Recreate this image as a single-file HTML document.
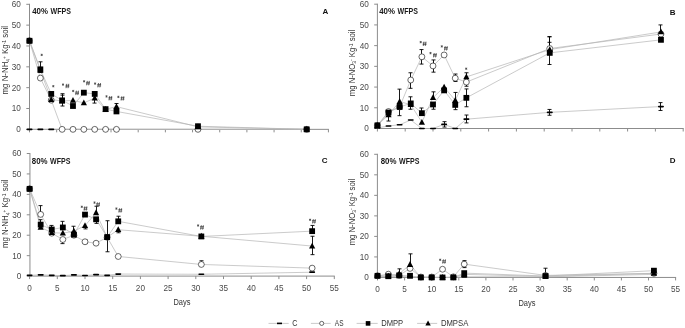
<!DOCTYPE html>
<html><head><meta charset="utf-8"><style>
html,body{margin:0;padding:0;background:#fff;}
body{width:685px;height:328px;overflow:hidden;}
svg{display:block;will-change:transform;}
text{font-family:"Liberation Sans", sans-serif;}
.tk{font-size:8.2px;fill:#4a4a4a;}
.ti{font-size:8.4px;fill:#333;}
.sub{font-size:5.2px;}
.wf{font-size:8.6px;font-weight:bold;fill:#1a1a1a;}
.lt{font-size:8px;font-weight:bold;fill:#111;}
.an{font-size:7px;fill:#333;font-style:italic;}
.st{font-size:6.5px;font-style:normal;}
.lg{font-size:8.4px;fill:#333;}
</style></head><body>
<svg width="685" height="328" viewBox="0 0 685 328">
<rect width="685" height="328" fill="#fff"/>
<g stroke="#8c8c8c" stroke-width="1" fill="none">
<path d="M29.5 3.8V129.35"/>
<path d="M29.5 129.35H328.92"/>
<path d="M26.3 129.35H29.5"/>
<path d="M26.3 108.51H29.5"/>
<path d="M26.3 87.67H29.5"/>
<path d="M26.3 66.83H29.5"/>
<path d="M26.3 45.98H29.5"/>
<path d="M26.3 25.14H29.5"/>
<path d="M26.3 4.3H29.5"/>
<path d="M29.5 129.35V132.35"/>
<path d="M56.67 129.35V132.35"/>
<path d="M83.85 129.35V132.35"/>
<path d="M111.02 129.35V132.35"/>
<path d="M138.2 129.35V132.35"/>
<path d="M165.38 129.35V132.35"/>
<path d="M192.55 129.35V132.35"/>
<path d="M219.72 129.35V132.35"/>
<path d="M246.9 129.35V132.35"/>
<path d="M274.07 129.35V132.35"/>
<path d="M301.25 129.35V132.35"/>
<path d="M328.42 129.35V132.35"/>
</g>
<text x="20.9" y="132.25" text-anchor="end" class="tk">0</text>
<text x="20.9" y="111.41" text-anchor="end" class="tk">10</text>
<text x="20.9" y="90.57" text-anchor="end" class="tk">20</text>
<text x="20.9" y="69.73" text-anchor="end" class="tk">30</text>
<text x="20.9" y="48.88" text-anchor="end" class="tk">40</text>
<text x="20.9" y="28.04" text-anchor="end" class="tk">50</text>
<text x="20.9" y="7.2" text-anchor="end" class="tk">60</text>
<g stroke="#b4b4b4" stroke-width="0.7" fill="none">
<polyline points="29.5,129.35 40.37,129.35 51.24,129.35 62.11,129.35 72.98,129.35 83.85,129.35 94.72,129.35 105.59,129.35 116.46,129.35 197.98,129.35 306.69,129.35"/>
<polyline points="29.5,40.77 40.37,78.08 51.24,100.17 62.11,129.35 72.98,129.35 83.85,129.35 94.72,129.35 105.59,129.35 116.46,129.35 197.98,129.35 306.69,129.35"/>
<polyline points="29.5,40.77 40.37,69.33 51.24,93.92 62.11,100.38 72.98,106.01 83.85,92.67 94.72,93.92 105.59,109.13 116.46,111.43 197.98,126.22 306.69,129.35"/>
<polyline points="29.5,40.77 40.37,70.37 51.24,99.55 62.11,101.01 72.98,100.38 83.85,102.88 94.72,98.09 105.59,109.34 116.46,106.63 197.98,126.85 306.69,129.35"/>
</g>
<g stroke="#000" stroke-width="0.9" fill="none">
<path d="M40.5 69.33V61.82M38.5 61.82H42.5"/>
<path d="M40.5 69.33V72.45M38.5 72.45H42.5"/>
<path d="M62.5 100.38V93.71M60.5 93.71H64.5"/>
<path d="M62.5 100.38V106.01M60.5 106.01H64.5"/>
<path d="M62.5 101.01V95.17M60.5 95.17H64.5"/>
<path d="M94.5 98.09V103.09M92.5 103.09H96.5"/>
<path d="M116.5 111.43V112.47M114.5 112.47H118.5"/>
<path d="M116.5 106.63V103.51M114.5 103.51H118.5"/>
<path d="M83.5 92.67V91.42M81.5 91.42H85.5"/>
<path d="M83.5 92.67V93.92M81.5 93.92H85.5"/>
<path d="M105.5 109.13V107.88M103.5 107.88H107.5"/>
<path d="M105.5 109.13V110.38M103.5 110.38H107.5"/>
</g>
<rect x="26.5" y="128.5" width="6" height="1.7" rx="0.8" fill="#000"/>
<rect x="37.37" y="128.5" width="6" height="1.7" rx="0.8" fill="#000"/>
<rect x="48.24" y="128.5" width="6" height="1.7" rx="0.8" fill="#000"/>
<rect x="59.11" y="128.5" width="6" height="1.7" rx="0.8" fill="#000"/>
<rect x="69.98" y="128.5" width="6" height="1.7" rx="0.8" fill="#000"/>
<rect x="80.85" y="128.5" width="6" height="1.7" rx="0.8" fill="#000"/>
<rect x="91.72" y="128.5" width="6" height="1.7" rx="0.8" fill="#000"/>
<rect x="102.59" y="128.5" width="6" height="1.7" rx="0.8" fill="#000"/>
<rect x="113.46" y="128.5" width="6" height="1.7" rx="0.8" fill="#000"/>
<rect x="194.98" y="128.5" width="6" height="1.7" rx="0.8" fill="#000"/>
<rect x="303.69" y="128.5" width="6" height="1.7" rx="0.8" fill="#000"/>
<circle cx="29.5" cy="40.77" r="2.95" fill="#fff" stroke="#1a1a1a" stroke-width="0.65"/>
<circle cx="40.37" cy="78.08" r="2.95" fill="#fff" stroke="#1a1a1a" stroke-width="0.65"/>
<circle cx="51.24" cy="100.17" r="2.95" fill="#fff" stroke="#1a1a1a" stroke-width="0.65"/>
<circle cx="62.11" cy="129.35" r="2.95" fill="#fff" stroke="#1a1a1a" stroke-width="0.65"/>
<circle cx="72.98" cy="129.35" r="2.95" fill="#fff" stroke="#1a1a1a" stroke-width="0.65"/>
<circle cx="83.85" cy="129.35" r="2.95" fill="#fff" stroke="#1a1a1a" stroke-width="0.65"/>
<circle cx="94.72" cy="129.35" r="2.95" fill="#fff" stroke="#1a1a1a" stroke-width="0.65"/>
<circle cx="105.59" cy="129.35" r="2.95" fill="#fff" stroke="#1a1a1a" stroke-width="0.65"/>
<circle cx="116.46" cy="129.35" r="2.95" fill="#fff" stroke="#1a1a1a" stroke-width="0.65"/>
<circle cx="197.98" cy="129.35" r="2.95" fill="#fff" stroke="#1a1a1a" stroke-width="0.65"/>
<circle cx="306.69" cy="129.35" r="2.95" fill="#fff" stroke="#1a1a1a" stroke-width="0.65"/>
<rect x="26.6" y="37.87" width="5.8" height="5.8" fill="#000"/>
<rect x="37.47" y="66.43" width="5.8" height="5.8" fill="#000"/>
<rect x="48.34" y="91.02" width="5.8" height="5.8" fill="#000"/>
<rect x="59.21" y="97.48" width="5.8" height="5.8" fill="#000"/>
<rect x="70.08" y="103.11" width="5.8" height="5.8" fill="#000"/>
<rect x="80.95" y="89.77" width="5.8" height="5.8" fill="#000"/>
<rect x="91.82" y="91.02" width="5.8" height="5.8" fill="#000"/>
<rect x="102.69" y="106.23" width="5.8" height="5.8" fill="#000"/>
<rect x="113.56" y="108.53" width="5.8" height="5.8" fill="#000"/>
<rect x="195.08" y="123.32" width="5.8" height="5.8" fill="#000"/>
<rect x="303.79" y="126.45" width="5.8" height="5.8" fill="#000"/>
<path d="M29.5 37.37L32.6 43.17L26.4 43.17Z" fill="#000"/>
<path d="M40.37 66.97L43.47 72.77L37.27 72.77Z" fill="#000"/>
<path d="M51.24 96.15L54.34 101.95L48.14 101.95Z" fill="#000"/>
<path d="M62.11 97.61L65.21 103.41L59.01 103.41Z" fill="#000"/>
<path d="M72.98 96.98L76.08 102.78L69.88 102.78Z" fill="#000"/>
<path d="M83.85 99.48L86.95 105.28L80.75 105.28Z" fill="#000"/>
<path d="M94.72 94.69L97.82 100.49L91.62 100.49Z" fill="#000"/>
<path d="M105.59 105.94L108.69 111.74L102.49 111.74Z" fill="#000"/>
<path d="M116.46 103.23L119.56 109.03L113.36 109.03Z" fill="#000"/>
<path d="M197.98 123.45L201.08 129.25L194.88 129.25Z" fill="#000"/>
<path d="M306.69 125.95L309.79 131.75L303.58 131.75Z" fill="#000"/>
<path d="M41.7 53.75L41.7 56.05M42.7 54.32L40.7 55.48M42.7 55.48L40.7 54.32" stroke="#444" stroke-width="0.75" fill="none"/>
<path d="M53.3 85.05L53.3 87.35M54.3 85.62L52.3 86.78M54.3 86.78L52.3 85.62" stroke="#444" stroke-width="0.75" fill="none"/>
<path d="M63 83.45L63 85.75M64 84.02L62 85.17M64 85.17L62 84.02" stroke="#444" stroke-width="0.75" fill="none"/>
<path d="M66.75 83.8L66.05 88.2M68.75 83.8L68.05 88.2M65.5 85.25H69.3M65.5 86.75H69.3" stroke="#333" stroke-width="0.7" fill="none"/>
<path d="M73.2 89.85L73.2 92.15M74.2 90.42L72.2 91.58M74.2 91.58L72.2 90.42" stroke="#444" stroke-width="0.75" fill="none"/>
<path d="M76.45 90.7L75.75 95.1M78.45 90.7L77.75 95.1M75.2 92.15H79M75.2 93.65H79" stroke="#333" stroke-width="0.7" fill="none"/>
<path d="M84.1 80.15L84.1 82.45M85.1 80.72L83.1 81.88M85.1 81.88L83.1 80.72" stroke="#444" stroke-width="0.75" fill="none"/>
<path d="M87.35 80.9L86.65 85.3M89.35 80.9L88.65 85.3M86.1 82.35H89.9M86.1 83.85H89.9" stroke="#333" stroke-width="0.7" fill="none"/>
<path d="M95.1 82.45L95.1 84.75M96.1 83.02L94.1 84.17M96.1 84.17L94.1 83.02" stroke="#444" stroke-width="0.75" fill="none"/>
<path d="M98.55 83L97.85 87.4M100.55 83L99.85 87.4M97.3 84.45H101.1M97.3 85.95H101.1" stroke="#333" stroke-width="0.7" fill="none"/>
<path d="M106.5 95.25L106.5 97.55M107.5 95.83L105.5 96.98M107.5 96.98L105.5 95.83" stroke="#444" stroke-width="0.75" fill="none"/>
<path d="M109.75 96L109.05 100.4M111.75 96L111.05 100.4M108.5 97.45H112.3M108.5 98.95H112.3" stroke="#333" stroke-width="0.7" fill="none"/>
<path d="M118.4 95.75L118.4 98.05M119.4 96.33L117.4 97.48M119.4 97.48L117.4 96.33" stroke="#444" stroke-width="0.75" fill="none"/>
<path d="M121.85 96.2L121.15 100.6M123.85 96.2L123.15 100.6M120.6 97.65H124.4M120.6 99.15H124.4" stroke="#333" stroke-width="0.7" fill="none"/>
<text transform="translate(8.4 60.2) rotate(-90)" text-anchor="middle" class="ti" textLength="68.5" lengthAdjust="spacingAndGlyphs">mg N-NH<tspan class="sub" dy="1.2">4</tspan><tspan class="sub" dy="-3.6">+</tspan><tspan dy="2.4"> Kg</tspan><tspan class="sub" dy="-2.6">-1</tspan><tspan dy="2.6"> soil</tspan></text>
<text x="32.2" y="14" class="wf" textLength="15.8" lengthAdjust="spacingAndGlyphs">40%</text>
<text x="50.5" y="14" class="wf" textLength="20.4" lengthAdjust="spacingAndGlyphs">WFPS</text>
<text x="325.5" y="13.5" class="lt" text-anchor="middle">A</text>
<g stroke="#8c8c8c" stroke-width="1" fill="none">
<path d="M377.4 3.7V128.5"/>
<path d="M377.4 128.5H683.7"/>
<path d="M374.2 128.5H377.4"/>
<path d="M374.2 107.78H377.4"/>
<path d="M374.2 87.07H377.4"/>
<path d="M374.2 66.35H377.4"/>
<path d="M374.2 45.63H377.4"/>
<path d="M374.2 24.92H377.4"/>
<path d="M374.2 4.2H377.4"/>
<path d="M377.4 128.5V131.5"/>
<path d="M405.2 128.5V131.5"/>
<path d="M433 128.5V131.5"/>
<path d="M460.8 128.5V131.5"/>
<path d="M488.6 128.5V131.5"/>
<path d="M516.4 128.5V131.5"/>
<path d="M544.2 128.5V131.5"/>
<path d="M572 128.5V131.5"/>
<path d="M599.8 128.5V131.5"/>
<path d="M627.6 128.5V131.5"/>
<path d="M655.4 128.5V131.5"/>
<path d="M683.2 128.5V131.5"/>
</g>
<text x="368.8" y="131.4" text-anchor="end" class="tk">0</text>
<text x="368.8" y="110.68" text-anchor="end" class="tk">10</text>
<text x="368.8" y="89.97" text-anchor="end" class="tk">20</text>
<text x="368.8" y="69.25" text-anchor="end" class="tk">30</text>
<text x="368.8" y="48.53" text-anchor="end" class="tk">40</text>
<text x="368.8" y="27.82" text-anchor="end" class="tk">50</text>
<text x="368.8" y="7.1" text-anchor="end" class="tk">60</text>
<g stroke="#b4b4b4" stroke-width="0.7" fill="none">
<polyline points="377.4,127.88 388.52,126.01 399.64,124.77 410.76,120.01 421.88,128.5 433,128.5 444.12,124.36 455.24,128.5 466.36,119.18 549.76,112.34 660.96,106.54"/>
<polyline points="377.4,125.39 388.52,111.51 399.64,106.95 410.76,80.02 421.88,56.82 433,65.94 444.12,54.96 455.24,78.16 466.36,82.09 549.76,48.53 660.96,34.03"/>
<polyline points="377.4,125.39 388.52,112.55 399.64,106.95 410.76,103.43 421.88,113.17 433,104.47 444.12,90.38 455.24,104.88 466.36,97.84 549.76,52.88 660.96,39.83"/>
<polyline points="377.4,125.39 388.52,114.83 399.64,101.57 410.76,104.68 421.88,122.28 433,97.63 444.12,87.07 455.24,100.33 466.36,76.92 549.76,49.57 660.96,31.96"/>
</g>
<g stroke="#000" stroke-width="0.9" fill="none">
<path d="M410.5 80.02V72.77M408.5 72.77H412.5"/>
<path d="M410.5 80.02V88.31M408.5 88.31H412.5"/>
<path d="M421.5 56.82V49.57M419.5 49.57H423.5"/>
<path d="M421.5 56.82V64.07M419.5 64.07H423.5"/>
<path d="M433.5 65.94V59.93M431.5 59.93H435.5"/>
<path d="M433.5 65.94V72.15M431.5 72.15H435.5"/>
<path d="M455.5 78.16V74.02M453.5 74.02H457.5"/>
<path d="M455.5 78.16V81.47M453.5 81.47H457.5"/>
<path d="M466.5 76.92V72.77M464.5 72.77H468.5"/>
<path d="M466.5 82.09V86.24M464.5 86.24H468.5"/>
<path d="M388.5 114.83V121.04M386.5 121.04H390.5"/>
<path d="M399.5 101.57V89.14M397.5 89.14H401.5"/>
<path d="M399.5 106.95V115.66M397.5 115.66H401.5"/>
<path d="M444.5 90.38V92.25M442.5 92.25H446.5"/>
<path d="M410.5 103.43V96.8M408.5 96.8H412.5"/>
<path d="M410.5 103.43V109.23M408.5 109.23H412.5"/>
<path d="M421.5 113.17V107.99M419.5 107.99H423.5"/>
<path d="M433.5 97.63V91.83M431.5 91.83H435.5"/>
<path d="M433.5 104.47V109.23M431.5 109.23H435.5"/>
<path d="M455.5 100.33V92.45M453.5 92.45H457.5"/>
<path d="M455.5 104.88V109.65M453.5 109.65H457.5"/>
<path d="M466.5 97.84V88.93M464.5 88.93H468.5"/>
<path d="M466.5 97.84V106.75M464.5 106.75H468.5"/>
<path d="M466.5 119.18V115.03M464.5 115.03H468.5"/>
<path d="M466.5 119.18V122.91M464.5 122.91H468.5"/>
<path d="M444.5 124.36V121.66M442.5 121.66H446.5"/>
<path d="M444.5 124.36V127.05M442.5 127.05H446.5"/>
<path d="M549.5 112.34V109.44M547.5 109.44H551.5"/>
<path d="M549.5 112.34V115.24M547.5 115.24H551.5"/>
<path d="M660.5 106.54V102.6M658.5 102.6H662.5"/>
<path d="M660.5 106.54V110.48M658.5 110.48H662.5"/>
<path d="M549.5 48.53V42.32M547.5 42.32H551.5"/>
<path d="M549.5 52.88V36.73M547.5 36.73H551.5"/>
<path d="M549.5 52.88V64.49M547.5 64.49H551.5"/>
<path d="M549.5 49.57V36.73M547.5 36.73H551.5"/>
<path d="M660.5 31.96V24.92M658.5 24.92H662.5"/>
<path d="M660.5 39.83V41.49M658.5 41.49H662.5"/>
</g>
<rect x="374.4" y="127.03" width="6" height="1.7" rx="0.8" fill="#000"/>
<rect x="385.52" y="125.16" width="6" height="1.7" rx="0.8" fill="#000"/>
<rect x="396.64" y="123.92" width="6" height="1.7" rx="0.8" fill="#000"/>
<rect x="407.76" y="119.16" width="6" height="1.7" rx="0.8" fill="#000"/>
<rect x="418.88" y="127.65" width="6" height="1.7" rx="0.8" fill="#000"/>
<rect x="430" y="127.65" width="6" height="1.7" rx="0.8" fill="#000"/>
<rect x="441.12" y="123.51" width="6" height="1.7" rx="0.8" fill="#000"/>
<rect x="452.24" y="127.65" width="6" height="1.7" rx="0.8" fill="#000"/>
<rect x="463.36" y="118.33" width="6" height="1.7" rx="0.8" fill="#000"/>
<rect x="546.76" y="111.49" width="6" height="1.7" rx="0.8" fill="#000"/>
<rect x="657.96" y="105.69" width="6" height="1.7" rx="0.8" fill="#000"/>
<circle cx="377.4" cy="125.39" r="2.95" fill="#fff" stroke="#1a1a1a" stroke-width="0.65"/>
<circle cx="388.52" cy="111.51" r="2.95" fill="#fff" stroke="#1a1a1a" stroke-width="0.65"/>
<circle cx="399.64" cy="106.95" r="2.95" fill="#fff" stroke="#1a1a1a" stroke-width="0.65"/>
<circle cx="410.76" cy="80.02" r="2.95" fill="#fff" stroke="#1a1a1a" stroke-width="0.65"/>
<circle cx="421.88" cy="56.82" r="2.95" fill="#fff" stroke="#1a1a1a" stroke-width="0.65"/>
<circle cx="433" cy="65.94" r="2.95" fill="#fff" stroke="#1a1a1a" stroke-width="0.65"/>
<circle cx="444.12" cy="54.96" r="2.95" fill="#fff" stroke="#1a1a1a" stroke-width="0.65"/>
<circle cx="455.24" cy="78.16" r="2.95" fill="#fff" stroke="#1a1a1a" stroke-width="0.65"/>
<circle cx="466.36" cy="82.09" r="2.95" fill="#fff" stroke="#1a1a1a" stroke-width="0.65"/>
<circle cx="549.76" cy="48.53" r="2.95" fill="#fff" stroke="#1a1a1a" stroke-width="0.65"/>
<circle cx="660.96" cy="34.03" r="2.95" fill="#fff" stroke="#1a1a1a" stroke-width="0.65"/>
<rect x="374.5" y="122.49" width="5.8" height="5.8" fill="#000"/>
<rect x="385.62" y="109.65" width="5.8" height="5.8" fill="#000"/>
<rect x="396.74" y="104.05" width="5.8" height="5.8" fill="#000"/>
<rect x="407.86" y="100.53" width="5.8" height="5.8" fill="#000"/>
<rect x="418.98" y="110.27" width="5.8" height="5.8" fill="#000"/>
<rect x="430.1" y="101.57" width="5.8" height="5.8" fill="#000"/>
<rect x="441.22" y="87.48" width="5.8" height="5.8" fill="#000"/>
<rect x="452.34" y="101.98" width="5.8" height="5.8" fill="#000"/>
<rect x="463.46" y="94.94" width="5.8" height="5.8" fill="#000"/>
<rect x="546.86" y="49.98" width="5.8" height="5.8" fill="#000"/>
<rect x="658.06" y="36.93" width="5.8" height="5.8" fill="#000"/>
<path d="M377.4 121.99L380.5 127.79L374.3 127.79Z" fill="#000"/>
<path d="M388.52 111.43L391.62 117.23L385.42 117.23Z" fill="#000"/>
<path d="M399.64 98.17L402.74 103.97L396.54 103.97Z" fill="#000"/>
<path d="M410.76 101.28L413.86 107.08L407.66 107.08Z" fill="#000"/>
<path d="M421.88 118.88L424.98 124.69L418.78 124.69Z" fill="#000"/>
<path d="M433 94.23L436.1 100.03L429.9 100.03Z" fill="#000"/>
<path d="M444.12 83.67L447.22 89.47L441.02 89.47Z" fill="#000"/>
<path d="M455.24 96.93L458.34 102.73L452.14 102.73Z" fill="#000"/>
<path d="M466.36 73.52L469.46 79.32L463.26 79.32Z" fill="#000"/>
<path d="M549.76 46.17L552.86 51.97L546.66 51.97Z" fill="#000"/>
<path d="M660.96 28.56L664.06 34.36L657.86 34.36Z" fill="#000"/>
<path d="M420.7 40.95L420.7 43.25M421.7 41.52L419.7 42.68M421.7 42.68L419.7 41.52" stroke="#444" stroke-width="0.75" fill="none"/>
<path d="M423.95 41.6L423.25 46M425.95 41.6L425.25 46M422.7 43.05H426.5M422.7 44.55H426.5" stroke="#333" stroke-width="0.7" fill="none"/>
<path d="M430.5 51.95L430.5 54.25M431.5 52.52L429.5 53.68M431.5 53.68L429.5 52.52" stroke="#444" stroke-width="0.75" fill="none"/>
<path d="M434.25 53L433.55 57.4M436.25 53L435.55 57.4M433 54.45H436.8M433 55.95H436.8" stroke="#333" stroke-width="0.7" fill="none"/>
<path d="M441.8 45.25L441.8 47.55M442.8 45.82L440.8 46.98M442.8 46.98L440.8 45.82" stroke="#444" stroke-width="0.75" fill="none"/>
<path d="M445.25 46.1L444.55 50.5M447.25 46.1L446.55 50.5M444 47.55H447.8M444 49.05H447.8" stroke="#333" stroke-width="0.7" fill="none"/>
<path d="M466.2 67.55L466.2 69.85M467.2 68.12L465.2 69.28M467.2 69.28L465.2 68.12" stroke="#444" stroke-width="0.75" fill="none"/>
<text transform="translate(355.2 63) rotate(-90)" text-anchor="middle" class="ti" textLength="66.5" lengthAdjust="spacingAndGlyphs">mg N-NO<tspan class="sub" dy="1.2">3</tspan><tspan class="sub" dy="-3.6">-</tspan><tspan dy="2.4"> Kg</tspan><tspan class="sub" dy="-2.6">-1</tspan><tspan dy="2.6"> soil</tspan></text>
<text x="379.2" y="14.4" class="wf" textLength="15.8" lengthAdjust="spacingAndGlyphs">40%</text>
<text x="397.5" y="14.4" class="wf" textLength="20.4" lengthAdjust="spacingAndGlyphs">WFPS</text>
<text x="672.6" y="14.8" class="lt" text-anchor="middle">B</text>
<g stroke="#8c8c8c" stroke-width="1" fill="none">
<path d="M29.95 153V276.1"/>
<path d="M29.95 276.1H334.8"/>
<path d="M26.75 276.1H29.95"/>
<path d="M26.75 255.67H29.95"/>
<path d="M26.75 235.23H29.95"/>
<path d="M26.75 214.8H29.95"/>
<path d="M26.75 194.37H29.95"/>
<path d="M26.75 173.93H29.95"/>
<path d="M26.75 153.5H29.95"/>
<path d="M29.6 276.1V279.1"/>
<path d="M57.3 276.1V279.1"/>
<path d="M85 276.1V279.1"/>
<path d="M112.7 276.1V279.1"/>
<path d="M140.4 276.1V279.1"/>
<path d="M168.1 276.1V279.1"/>
<path d="M195.8 276.1V279.1"/>
<path d="M223.5 276.1V279.1"/>
<path d="M251.2 276.1V279.1"/>
<path d="M278.9 276.1V279.1"/>
<path d="M306.6 276.1V279.1"/>
<path d="M334.3 276.1V279.1"/>
</g>
<text x="21.35" y="279" text-anchor="end" class="tk">0</text>
<text x="21.35" y="258.57" text-anchor="end" class="tk">10</text>
<text x="21.35" y="238.13" text-anchor="end" class="tk">20</text>
<text x="21.35" y="217.7" text-anchor="end" class="tk">30</text>
<text x="21.35" y="197.27" text-anchor="end" class="tk">40</text>
<text x="21.35" y="176.83" text-anchor="end" class="tk">50</text>
<text x="21.35" y="156.4" text-anchor="end" class="tk">60</text>
<text x="29.6" y="290.5" text-anchor="middle" class="tk">0</text>
<text x="57.3" y="290.5" text-anchor="middle" class="tk">5</text>
<text x="85" y="290.5" text-anchor="middle" class="tk">10</text>
<text x="112.7" y="290.5" text-anchor="middle" class="tk">15</text>
<text x="140.4" y="290.5" text-anchor="middle" class="tk">20</text>
<text x="168.1" y="290.5" text-anchor="middle" class="tk">25</text>
<text x="195.8" y="290.5" text-anchor="middle" class="tk">30</text>
<text x="223.5" y="290.5" text-anchor="middle" class="tk">35</text>
<text x="251.2" y="290.5" text-anchor="middle" class="tk">40</text>
<text x="278.9" y="290.5" text-anchor="middle" class="tk">45</text>
<text x="306.6" y="290.5" text-anchor="middle" class="tk">50</text>
<text x="334.3" y="290.5" text-anchor="middle" class="tk">55</text>
<g stroke="#b4b4b4" stroke-width="0.7" fill="none">
<polyline points="29.6,275.28 40.68,274.87 51.76,275.28 62.84,275.69 73.92,274.87 85,275.49 96.08,274.67 107.16,275.28 118.24,274.06 201.34,274.26 312.14,272.22"/>
<polyline points="29.6,188.85 40.68,214.39 51.76,233.19 62.84,239.52 73.92,235.23 85,241.77 96.08,243.2 107.16,237.28 118.24,256.48 201.34,264.45 312.14,268.13"/>
<polyline points="29.6,188.85 40.68,224.61 51.76,229.51 62.84,227.47 73.92,234.62 85,214.6 96.08,219.3 107.16,237.07 118.24,221.34 201.34,236.46 312.14,231.15"/>
<polyline points="29.6,188.85 40.68,227.47 51.76,232.58 62.84,233.19 73.92,231.15 85,225.63 96.08,212.76 107.16,237.28 118.24,229.72 201.34,236.25 312.14,246.06"/>
</g>
<g stroke="#000" stroke-width="0.9" fill="none">
<path d="M40.5 214.39V205.61M38.5 205.61H42.5"/>
<path d="M40.5 224.61V219.7M38.5 219.7H42.5"/>
<path d="M51.5 229.51V225.43M49.5 225.43H53.5"/>
<path d="M51.5 233.19V235.23M49.5 235.23H53.5"/>
<path d="M62.5 227.47V221.34M60.5 221.34H64.5"/>
<path d="M62.5 239.52V243.61M60.5 243.61H64.5"/>
<path d="M73.5 231.15V226.24M71.5 226.24H75.5"/>
<path d="M85.5 225.63V228.9M83.5 228.9H87.5"/>
<path d="M85.5 241.77V239.93M83.5 239.93H87.5"/>
<path d="M85.5 241.77V243.61M83.5 243.61H87.5"/>
<path d="M96.5 212.76V206.22M94.5 206.22H98.5"/>
<path d="M96.5 219.3V223.38M94.5 223.38H98.5"/>
<path d="M107.5 237.07V220.73M105.5 220.73H109.5"/>
<path d="M107.5 237.07V251.78M105.5 251.78H109.5"/>
<path d="M118.5 221.34V216.23M116.5 216.23H120.5"/>
<path d="M118.5 229.72V232.78M116.5 232.78H120.5"/>
<path d="M201.5 236.46V234.82M199.5 234.82H203.5"/>
<path d="M201.5 236.46V238.09M199.5 238.09H203.5"/>
<path d="M201.5 264.45V260.78M199.5 260.78H203.5"/>
<path d="M312.5 231.15V225.43M310.5 225.43H314.5"/>
<path d="M312.5 246.06V236.25M310.5 236.25H314.5"/>
<path d="M312.5 246.06V254.65M310.5 254.65H314.5"/>
</g>
<rect x="26.6" y="274.43" width="6" height="1.7" rx="0.8" fill="#000"/>
<rect x="37.68" y="274.02" width="6" height="1.7" rx="0.8" fill="#000"/>
<rect x="48.76" y="274.43" width="6" height="1.7" rx="0.8" fill="#000"/>
<rect x="59.84" y="274.84" width="6" height="1.7" rx="0.8" fill="#000"/>
<rect x="70.92" y="274.02" width="6" height="1.7" rx="0.8" fill="#000"/>
<rect x="82" y="274.64" width="6" height="1.7" rx="0.8" fill="#000"/>
<rect x="93.08" y="273.82" width="6" height="1.7" rx="0.8" fill="#000"/>
<rect x="104.16" y="274.43" width="6" height="1.7" rx="0.8" fill="#000"/>
<rect x="115.24" y="273.21" width="6" height="1.7" rx="0.8" fill="#000"/>
<rect x="198.34" y="273.41" width="6" height="1.7" rx="0.8" fill="#000"/>
<rect x="309.14" y="271.37" width="6" height="1.7" rx="0.8" fill="#000"/>
<circle cx="29.6" cy="188.85" r="2.95" fill="#fff" stroke="#1a1a1a" stroke-width="0.65"/>
<circle cx="40.68" cy="214.39" r="2.95" fill="#fff" stroke="#1a1a1a" stroke-width="0.65"/>
<circle cx="51.76" cy="233.19" r="2.95" fill="#fff" stroke="#1a1a1a" stroke-width="0.65"/>
<circle cx="62.84" cy="239.52" r="2.95" fill="#fff" stroke="#1a1a1a" stroke-width="0.65"/>
<circle cx="73.92" cy="235.23" r="2.95" fill="#fff" stroke="#1a1a1a" stroke-width="0.65"/>
<circle cx="85" cy="241.77" r="2.95" fill="#fff" stroke="#1a1a1a" stroke-width="0.65"/>
<circle cx="96.08" cy="243.2" r="2.95" fill="#fff" stroke="#1a1a1a" stroke-width="0.65"/>
<circle cx="107.16" cy="237.28" r="2.95" fill="#fff" stroke="#1a1a1a" stroke-width="0.65"/>
<circle cx="118.24" cy="256.48" r="2.95" fill="#fff" stroke="#1a1a1a" stroke-width="0.65"/>
<circle cx="201.34" cy="264.45" r="2.95" fill="#fff" stroke="#1a1a1a" stroke-width="0.65"/>
<circle cx="312.14" cy="268.13" r="2.95" fill="#fff" stroke="#1a1a1a" stroke-width="0.65"/>
<rect x="26.7" y="185.95" width="5.8" height="5.8" fill="#000"/>
<rect x="37.78" y="221.71" width="5.8" height="5.8" fill="#000"/>
<rect x="48.86" y="226.61" width="5.8" height="5.8" fill="#000"/>
<rect x="59.94" y="224.57" width="5.8" height="5.8" fill="#000"/>
<rect x="71.02" y="231.72" width="5.8" height="5.8" fill="#000"/>
<rect x="82.1" y="211.7" width="5.8" height="5.8" fill="#000"/>
<rect x="93.18" y="216.4" width="5.8" height="5.8" fill="#000"/>
<rect x="104.26" y="234.17" width="5.8" height="5.8" fill="#000"/>
<rect x="115.34" y="218.44" width="5.8" height="5.8" fill="#000"/>
<rect x="198.44" y="233.56" width="5.8" height="5.8" fill="#000"/>
<rect x="309.24" y="228.25" width="5.8" height="5.8" fill="#000"/>
<path d="M29.6 185.45L32.7 191.25L26.5 191.25Z" fill="#000"/>
<path d="M40.68 224.07L43.78 229.87L37.58 229.87Z" fill="#000"/>
<path d="M51.76 229.18L54.86 234.98L48.66 234.98Z" fill="#000"/>
<path d="M62.84 229.79L65.94 235.59L59.74 235.59Z" fill="#000"/>
<path d="M73.92 227.75L77.02 233.55L70.82 233.55Z" fill="#000"/>
<path d="M85 222.23L88.1 228.03L81.9 228.03Z" fill="#000"/>
<path d="M96.08 209.36L99.18 215.16L92.98 215.16Z" fill="#000"/>
<path d="M107.16 233.88L110.26 239.68L104.06 239.68Z" fill="#000"/>
<path d="M118.24 226.32L121.34 232.12L115.14 232.12Z" fill="#000"/>
<path d="M201.34 232.85L204.44 238.66L198.24 238.66Z" fill="#000"/>
<path d="M312.14 242.66L315.24 248.46L309.04 248.46Z" fill="#000"/>
<path d="M81.8 205.65L81.8 207.95M82.8 206.23L80.8 207.38M82.8 207.38L80.8 206.23" stroke="#444" stroke-width="0.75" fill="none"/>
<path d="M84.85 206.3L84.15 210.7M86.85 206.3L86.15 210.7M83.6 207.75H87.4M83.6 209.25H87.4" stroke="#333" stroke-width="0.7" fill="none"/>
<path d="M94.5 201.45L94.5 203.75M95.5 202.03L93.5 203.17M95.5 203.17L93.5 202.03" stroke="#444" stroke-width="0.75" fill="none"/>
<path d="M97.45 202.3L96.75 206.7M99.45 202.3L98.75 206.7M96.2 203.75H100M96.2 205.25H100" stroke="#333" stroke-width="0.7" fill="none"/>
<path d="M116.4 207.45L116.4 209.75M117.4 208.03L115.4 209.17M117.4 209.17L115.4 208.03" stroke="#444" stroke-width="0.75" fill="none"/>
<path d="M119.65 208.2L118.95 212.6M121.65 208.2L120.95 212.6M118.4 209.65H122.2M118.4 211.15H122.2" stroke="#333" stroke-width="0.7" fill="none"/>
<path d="M198.1 224.35L198.1 226.65M199.1 224.93L197.1 226.07M199.1 226.07L197.1 224.93" stroke="#444" stroke-width="0.75" fill="none"/>
<path d="M201.35 225.2L200.65 229.6M203.35 225.2L202.65 229.6M200.1 226.65H203.9M200.1 228.15H203.9" stroke="#333" stroke-width="0.7" fill="none"/>
<path d="M310.1 218.65L310.1 220.95M311.1 219.23L309.1 220.38M311.1 220.38L309.1 219.23" stroke="#444" stroke-width="0.75" fill="none"/>
<path d="M313.35 219.1L312.65 223.5M315.35 219.1L314.65 223.5M312.1 220.55H315.9M312.1 222.05H315.9" stroke="#333" stroke-width="0.7" fill="none"/>
<text transform="translate(8.4 213.8) rotate(-90)" text-anchor="middle" class="ti" textLength="68.5" lengthAdjust="spacingAndGlyphs">mg N-NH<tspan class="sub" dy="1.2">4</tspan><tspan class="sub" dy="-3.6">+</tspan><tspan dy="2.4"> Kg</tspan><tspan class="sub" dy="-2.6">-1</tspan><tspan dy="2.6"> soil</tspan></text>
<text x="31.8" y="163.6" class="wf" textLength="15.8" lengthAdjust="spacingAndGlyphs">80%</text>
<text x="50.1" y="163.6" class="wf" textLength="20.4" lengthAdjust="spacingAndGlyphs">WFPS</text>
<text x="324.6" y="163.3" class="lt" text-anchor="middle">C</text>
<g stroke="#8c8c8c" stroke-width="1" fill="none">
<path d="M377.4 153.8V277.45"/>
<path d="M377.4 277.45H676.1"/>
<path d="M374.2 277.45H377.4"/>
<path d="M374.2 256.93H377.4"/>
<path d="M374.2 236.4H377.4"/>
<path d="M374.2 215.88H377.4"/>
<path d="M374.2 195.35H377.4"/>
<path d="M374.2 174.82H377.4"/>
<path d="M374.2 154.3H377.4"/>
<path d="M377.5 277.45V280.45"/>
<path d="M404.6 277.45V280.45"/>
<path d="M431.7 277.45V280.45"/>
<path d="M458.8 277.45V280.45"/>
<path d="M485.9 277.45V280.45"/>
<path d="M513 277.45V280.45"/>
<path d="M540.1 277.45V280.45"/>
<path d="M567.2 277.45V280.45"/>
<path d="M594.3 277.45V280.45"/>
<path d="M621.4 277.45V280.45"/>
<path d="M648.5 277.45V280.45"/>
<path d="M675.6 277.45V280.45"/>
</g>
<text x="368.8" y="280.35" text-anchor="end" class="tk">0</text>
<text x="368.8" y="259.82" text-anchor="end" class="tk">10</text>
<text x="368.8" y="239.3" text-anchor="end" class="tk">20</text>
<text x="368.8" y="218.78" text-anchor="end" class="tk">30</text>
<text x="368.8" y="198.25" text-anchor="end" class="tk">40</text>
<text x="368.8" y="177.72" text-anchor="end" class="tk">50</text>
<text x="368.8" y="157.2" text-anchor="end" class="tk">60</text>
<text x="377.5" y="291.85" text-anchor="middle" class="tk">0</text>
<text x="404.6" y="291.85" text-anchor="middle" class="tk">5</text>
<text x="431.7" y="291.85" text-anchor="middle" class="tk">10</text>
<text x="458.8" y="291.85" text-anchor="middle" class="tk">15</text>
<text x="485.9" y="291.85" text-anchor="middle" class="tk">20</text>
<text x="513" y="291.85" text-anchor="middle" class="tk">25</text>
<text x="540.1" y="291.85" text-anchor="middle" class="tk">30</text>
<text x="567.2" y="291.85" text-anchor="middle" class="tk">35</text>
<text x="594.3" y="291.85" text-anchor="middle" class="tk">40</text>
<text x="621.4" y="291.85" text-anchor="middle" class="tk">45</text>
<text x="648.5" y="291.85" text-anchor="middle" class="tk">50</text>
<text x="675.6" y="291.85" text-anchor="middle" class="tk">55</text>
<g stroke="#b4b4b4" stroke-width="0.7" fill="none">
<polyline points="377.5,276.42 388.34,276.83 399.18,276.42 410.02,276.83 420.86,277.45 431.7,277.45 442.54,277.45 453.38,277.45 464.22,276.83 545.52,276.83 653.92,274.37"/>
<polyline points="377.5,275.81 388.34,274.17 399.18,275.4 410.02,268.42 420.86,277.04 431.7,277.04 442.54,269.24 453.38,276.83 464.22,264.11 545.52,275.4 653.92,273.34"/>
<polyline points="377.5,275.81 388.34,276.22 399.18,275.4 410.02,275.81 420.86,277.45 431.7,277.45 442.54,277.45 453.38,277.45 464.22,273.14 545.52,276.01 653.92,270.68"/>
<polyline points="377.5,275.81 388.34,276.22 399.18,273.76 410.02,264.52 420.86,277.45 431.7,277.45 442.54,277.45 453.38,277.45 464.22,274.37 545.52,276.42 653.92,273.34"/>
</g>
<g stroke="#000" stroke-width="0.9" fill="none">
<path d="M399.5 273.76V268.83M397.5 268.83H401.5"/>
<path d="M410.5 264.52V253.85M408.5 253.85H412.5"/>
<path d="M464.5 264.11V260.62M462.5 260.62H466.5"/>
<path d="M464.5 264.11V267.6M462.5 267.6H466.5"/>
<path d="M545.5 276.01V268.21M543.5 268.21H547.5"/>
<path d="M653.5 270.68V269.03M651.5 269.03H655.5"/>
</g>
<rect x="374.5" y="275.57" width="6" height="1.7" rx="0.8" fill="#000"/>
<rect x="385.34" y="275.98" width="6" height="1.7" rx="0.8" fill="#000"/>
<rect x="396.18" y="275.57" width="6" height="1.7" rx="0.8" fill="#000"/>
<rect x="407.02" y="275.98" width="6" height="1.7" rx="0.8" fill="#000"/>
<rect x="417.86" y="276.6" width="6" height="1.7" rx="0.8" fill="#000"/>
<rect x="428.7" y="276.6" width="6" height="1.7" rx="0.8" fill="#000"/>
<rect x="439.54" y="276.6" width="6" height="1.7" rx="0.8" fill="#000"/>
<rect x="450.38" y="276.6" width="6" height="1.7" rx="0.8" fill="#000"/>
<rect x="461.22" y="275.98" width="6" height="1.7" rx="0.8" fill="#000"/>
<rect x="542.52" y="275.98" width="6" height="1.7" rx="0.8" fill="#000"/>
<rect x="650.92" y="273.52" width="6" height="1.7" rx="0.8" fill="#000"/>
<circle cx="377.5" cy="275.81" r="2.95" fill="#fff" stroke="#1a1a1a" stroke-width="0.65"/>
<circle cx="388.34" cy="274.17" r="2.95" fill="#fff" stroke="#1a1a1a" stroke-width="0.65"/>
<circle cx="399.18" cy="275.4" r="2.95" fill="#fff" stroke="#1a1a1a" stroke-width="0.65"/>
<circle cx="410.02" cy="268.42" r="2.95" fill="#fff" stroke="#1a1a1a" stroke-width="0.65"/>
<circle cx="420.86" cy="277.04" r="2.95" fill="#fff" stroke="#1a1a1a" stroke-width="0.65"/>
<circle cx="431.7" cy="277.04" r="2.95" fill="#fff" stroke="#1a1a1a" stroke-width="0.65"/>
<circle cx="442.54" cy="269.24" r="2.95" fill="#fff" stroke="#1a1a1a" stroke-width="0.65"/>
<circle cx="453.38" cy="276.83" r="2.95" fill="#fff" stroke="#1a1a1a" stroke-width="0.65"/>
<circle cx="464.22" cy="264.11" r="2.95" fill="#fff" stroke="#1a1a1a" stroke-width="0.65"/>
<circle cx="545.52" cy="275.4" r="2.95" fill="#fff" stroke="#1a1a1a" stroke-width="0.65"/>
<circle cx="653.92" cy="273.34" r="2.95" fill="#fff" stroke="#1a1a1a" stroke-width="0.65"/>
<rect x="374.6" y="272.91" width="5.8" height="5.8" fill="#000"/>
<rect x="385.44" y="273.32" width="5.8" height="5.8" fill="#000"/>
<rect x="396.28" y="272.5" width="5.8" height="5.8" fill="#000"/>
<rect x="407.12" y="272.91" width="5.8" height="5.8" fill="#000"/>
<rect x="417.96" y="274.55" width="5.8" height="5.8" fill="#000"/>
<rect x="428.8" y="274.55" width="5.8" height="5.8" fill="#000"/>
<rect x="439.64" y="274.55" width="5.8" height="5.8" fill="#000"/>
<rect x="450.48" y="274.55" width="5.8" height="5.8" fill="#000"/>
<rect x="461.32" y="270.24" width="5.8" height="5.8" fill="#000"/>
<rect x="542.62" y="273.11" width="5.8" height="5.8" fill="#000"/>
<rect x="651.02" y="267.78" width="5.8" height="5.8" fill="#000"/>
<path d="M377.5 272.41L380.6 278.21L374.4 278.21Z" fill="#000"/>
<path d="M388.34 272.82L391.44 278.62L385.24 278.62Z" fill="#000"/>
<path d="M399.18 270.36L402.28 276.16L396.08 276.16Z" fill="#000"/>
<path d="M410.02 261.12L413.12 266.92L406.92 266.92Z" fill="#000"/>
<path d="M420.86 274.05L423.96 279.85L417.76 279.85Z" fill="#000"/>
<path d="M431.7 274.05L434.8 279.85L428.6 279.85Z" fill="#000"/>
<path d="M442.54 274.05L445.64 279.85L439.44 279.85Z" fill="#000"/>
<path d="M453.38 274.05L456.48 279.85L450.28 279.85Z" fill="#000"/>
<path d="M464.22 270.97L467.32 276.77L461.12 276.77Z" fill="#000"/>
<path d="M545.52 273.02L548.62 278.82L542.42 278.82Z" fill="#000"/>
<path d="M653.92 269.94L657.02 275.74L650.82 275.74Z" fill="#000"/>
<path d="M440.2 258.65L440.2 260.95M441.2 259.23L439.2 260.38M441.2 260.38L439.2 259.23" stroke="#444" stroke-width="0.75" fill="none"/>
<path d="M443.45 259.3L442.75 263.7M445.45 259.3L444.75 263.7M442.2 260.75H446M442.2 262.25H446" stroke="#333" stroke-width="0.7" fill="none"/>
<text transform="translate(355.2 212.1) rotate(-90)" text-anchor="middle" class="ti" textLength="66.5" lengthAdjust="spacingAndGlyphs">mg N-NO<tspan class="sub" dy="1.2">3</tspan><tspan class="sub" dy="-3.6">-</tspan><tspan dy="2.4"> Kg</tspan><tspan class="sub" dy="-2.6">-1</tspan><tspan dy="2.6"> soil</tspan></text>
<text x="380.7" y="163.8" class="wf" textLength="15.8" lengthAdjust="spacingAndGlyphs">80%</text>
<text x="399" y="163.8" class="wf" textLength="20.4" lengthAdjust="spacingAndGlyphs">WFPS</text>
<text x="672.6" y="163" class="lt" text-anchor="middle">D</text>
<path d="M268.5 323.4H288.7" stroke="#b4b4b4" stroke-width="0.7"/>
<rect x="277" y="322.6" width="5" height="1.6" fill="#000"/>
<text x="292.2" y="326.2" class="lg" textLength="5.2" lengthAdjust="spacingAndGlyphs">C</text>
<path d="M310.9 323.4H330.7" stroke="#b4b4b4" stroke-width="0.7"/>
<circle cx="321.7" cy="323.4" r="2.05" fill="#fff" stroke="#1a1a1a" stroke-width="0.65"/>
<text x="334.8" y="326.2" class="lg" textLength="8.7" lengthAdjust="spacingAndGlyphs">AS</text>
<path d="M356.6 323.4H377.7" stroke="#b4b4b4" stroke-width="0.7"/>
<rect x="365.75" y="321.1" width="4.6" height="4.6" fill="#000"/>
<text x="381.2" y="326.2" class="lg" textLength="21.9" lengthAdjust="spacingAndGlyphs">DMPP</text>
<path d="M417.1 323.4H437.2" stroke="#b4b4b4" stroke-width="0.7"/>
<path d="M428.05 320.4L430.75 325.6L425.35 325.6Z" fill="#000"/>
<text x="440.9" y="326.2" class="lg" textLength="27.4" lengthAdjust="spacingAndGlyphs">DMPSA</text>
<text x="173.4" y="304.5" class="lg" textLength="17" lengthAdjust="spacingAndGlyphs">Days</text>
<text x="518.4" y="306.0" class="lg" textLength="17" lengthAdjust="spacingAndGlyphs">Days</text>
</svg>
</body></html>
